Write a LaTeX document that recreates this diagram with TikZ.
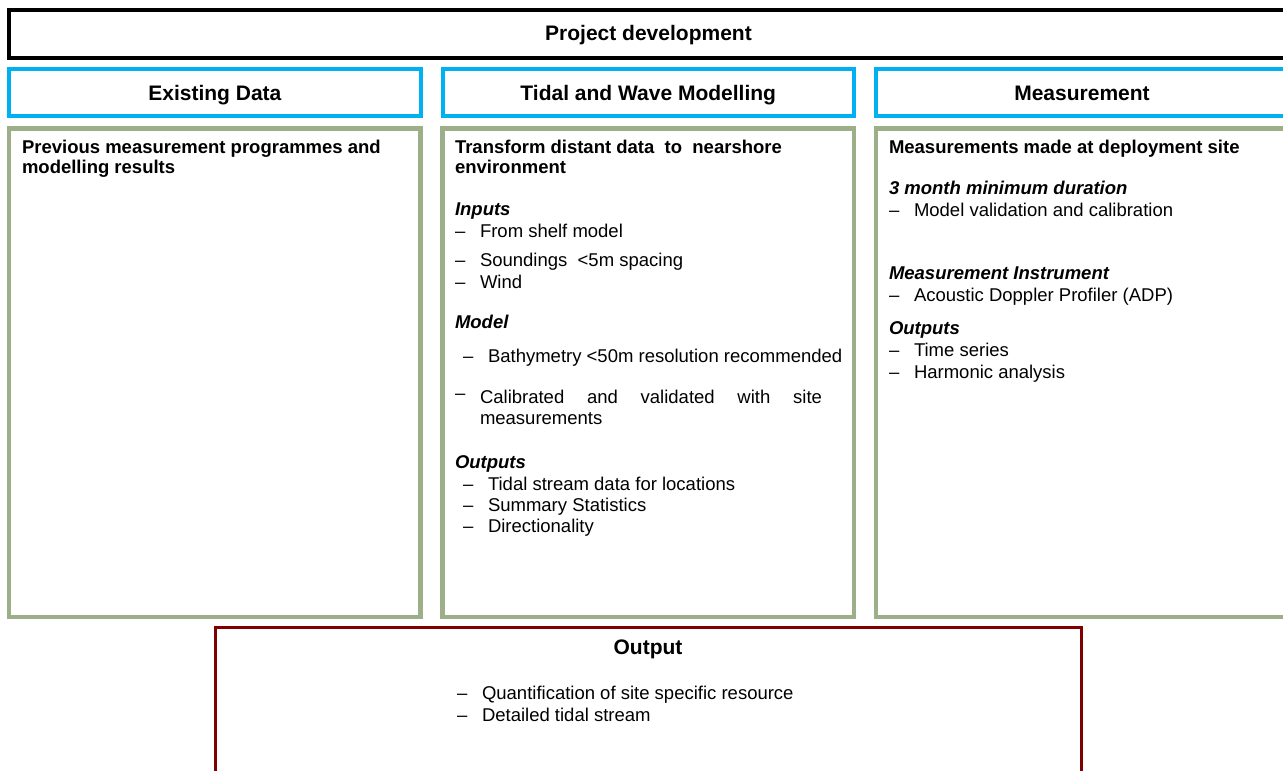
\documentclass[tikz,border=0pt]{standalone}
\usepackage{fontspec}
\setmainfont{Liberation Sans}
\definecolor{cyanblue}{HTML}{00B0F0}
\definecolor{olivegreen}{HTML}{9CAF88}
\definecolor{darkred}{HTML}{800000}
\begin{document}
\begin{tikzpicture}[x=1pt,y=-1pt,
  every node/.style={inner sep=0pt, outer sep=0pt},
  body/.style={anchor=base west, font=\fontsize{18.5}{21}\selectfont},
  head/.style={anchor=base, font=\fontsize{21}{24}\selectfont\bfseries},
  topbox/.style={draw=black, line width=4pt},
  bluebox/.style={draw=cyanblue, line width=4pt},
  greenbox/.style={draw=olivegreen, line width=4.5pt},
  redbox/.style={draw=darkred, line width=3pt},
]
\clip (0,0) rectangle (1283,771);
\fill[white] (0,0) rectangle (1283,771);

% top box
\node[topbox, minimum width=1279pt, minimum height=48.5pt] (top) at (648.5,33.75) {};
\node[head] (ttop) at (648.5,40) {Project development};

% header boxes
\node[bluebox, minimum width=411.7pt, minimum height=46.8pt] (hexist) at (214.85,92.4) {};
\node[head] (texist) at (214.85,100) {Existing Data};
\node[bluebox, minimum width=411.5pt, minimum height=46.8pt] (htidal) at (648.25,92.4) {};
\node[head] (ttidal) at (648.25,100) {Tidal and Wave Modelling};
\node[bluebox, minimum width=412pt, minimum height=46.8pt] (hmeas) at (1082,92.4) {};
\node[head] (tmeas) at (1082,100) {Measurement};

% content boxes
\node[greenbox, minimum width=411.7pt, minimum height=488.7pt] (gexist) at (214.85,372.65) {};
\node[greenbox, minimum width=411.5pt, minimum height=488.7pt] (gtidal) at (648.25,372.65) {};
\node[greenbox, minimum width=412pt, minimum height=488.7pt] (gmeas) at (1082,372.65) {};

% output box
\node[redbox, minimum width=866.5pt, minimum height=192.5pt] (out) at (648.25,723.75) {};
\node[head] (tout) at (648,654) {Output};

% existing data text
\node[body] (e1) at (22,153) {\textbf{Previous measurement programmes and}};
\node[body] (e2) at (22,173.5) {\textbf{modelling results}};

% tidal text
\node[body] (t1) at (455,153) {\textbf{Transform distant data\ \ to\ \ nearshore}};
\node[body] (t2) at (455,173.5) {\textbf{environment}};
\node[body] (t3) at (455,215) {\textbf{\textit{Inputs}}};
\node[body] (t4d) at (455,237) {\textendash};
\node[body] (t4) at (480,237) {From shelf model};
\node[body] (t5d) at (455,266) {\textendash};
\node[body] (t5) at (480,266) {Soundings\ \ <5m spacing};
\node[body] (t6d) at (455,288) {\textendash};
\node[body] (t6) at (480,288) {Wind};
\node[body] (t7) at (455,328) {\textbf{\textit{Model}}};
\node[body] (t8d) at (463,362) {\textendash};
\node[body] (t8) at (488,362) {Bathymetry <50m resolution recommended};
\node[body] (t9d) at (455,399) {\textendash};
\node[body] (t9) at (480,403) {\makebox[342pt][s]{Calibrated\hfill and\hfill validated\hfill with\hfill site}};
\node[body] (t10) at (480,424) {measurements};
\node[body] (t11) at (455,468) {\textbf{\textit{Outputs}}};
\node[body] (t12d) at (463,490.7) {\textendash};
\node[body] (t12) at (488,490.7) {Tidal stream data for locations};
\node[body] (t13d) at (463,511.7) {\textendash};
\node[body] (t13) at (488,511.7) {Summary Statistics};
\node[body] (t14d) at (463,532.7) {\textendash};
\node[body] (t14) at (488,532.7) {Directionality};

% measurement text
\node[body] (m1) at (889,153) {\textbf{Measurements made at deployment site}};
\node[body] (m2) at (889,194) {\textbf{\textit{3 month minimum duration}}};
\node[body] (m3d) at (889,216.7) {\textendash};
\node[body] (m3) at (914,216.7) {Model validation and calibration};
\node[body] (m4) at (889,279) {\textbf{\textit{Measurement Instrument}}};
\node[body] (m5d) at (889,301) {\textendash};
\node[body] (m5) at (914,301) {Acoustic Doppler Profiler (ADP)};
\node[body] (m6) at (889,334.5) {\textbf{\textit{Outputs}}};
\node[body] (m7d) at (889,356.7) {\textendash};
\node[body] (m7) at (914,356.7) {Time series};
\node[body] (m8d) at (889,378) {\textendash};
\node[body] (m8) at (914,378) {Harmonic analysis};

% output text
\node[body] (o1d) at (457,699) {\textendash};
\node[body] (o1) at (482,699) {Quantification of site specific resource};
\node[body] (o2d) at (457,721) {\textendash};
\node[body] (o2) at (482,721) {Detailed tidal stream};
\end{tikzpicture}
\end{document}
